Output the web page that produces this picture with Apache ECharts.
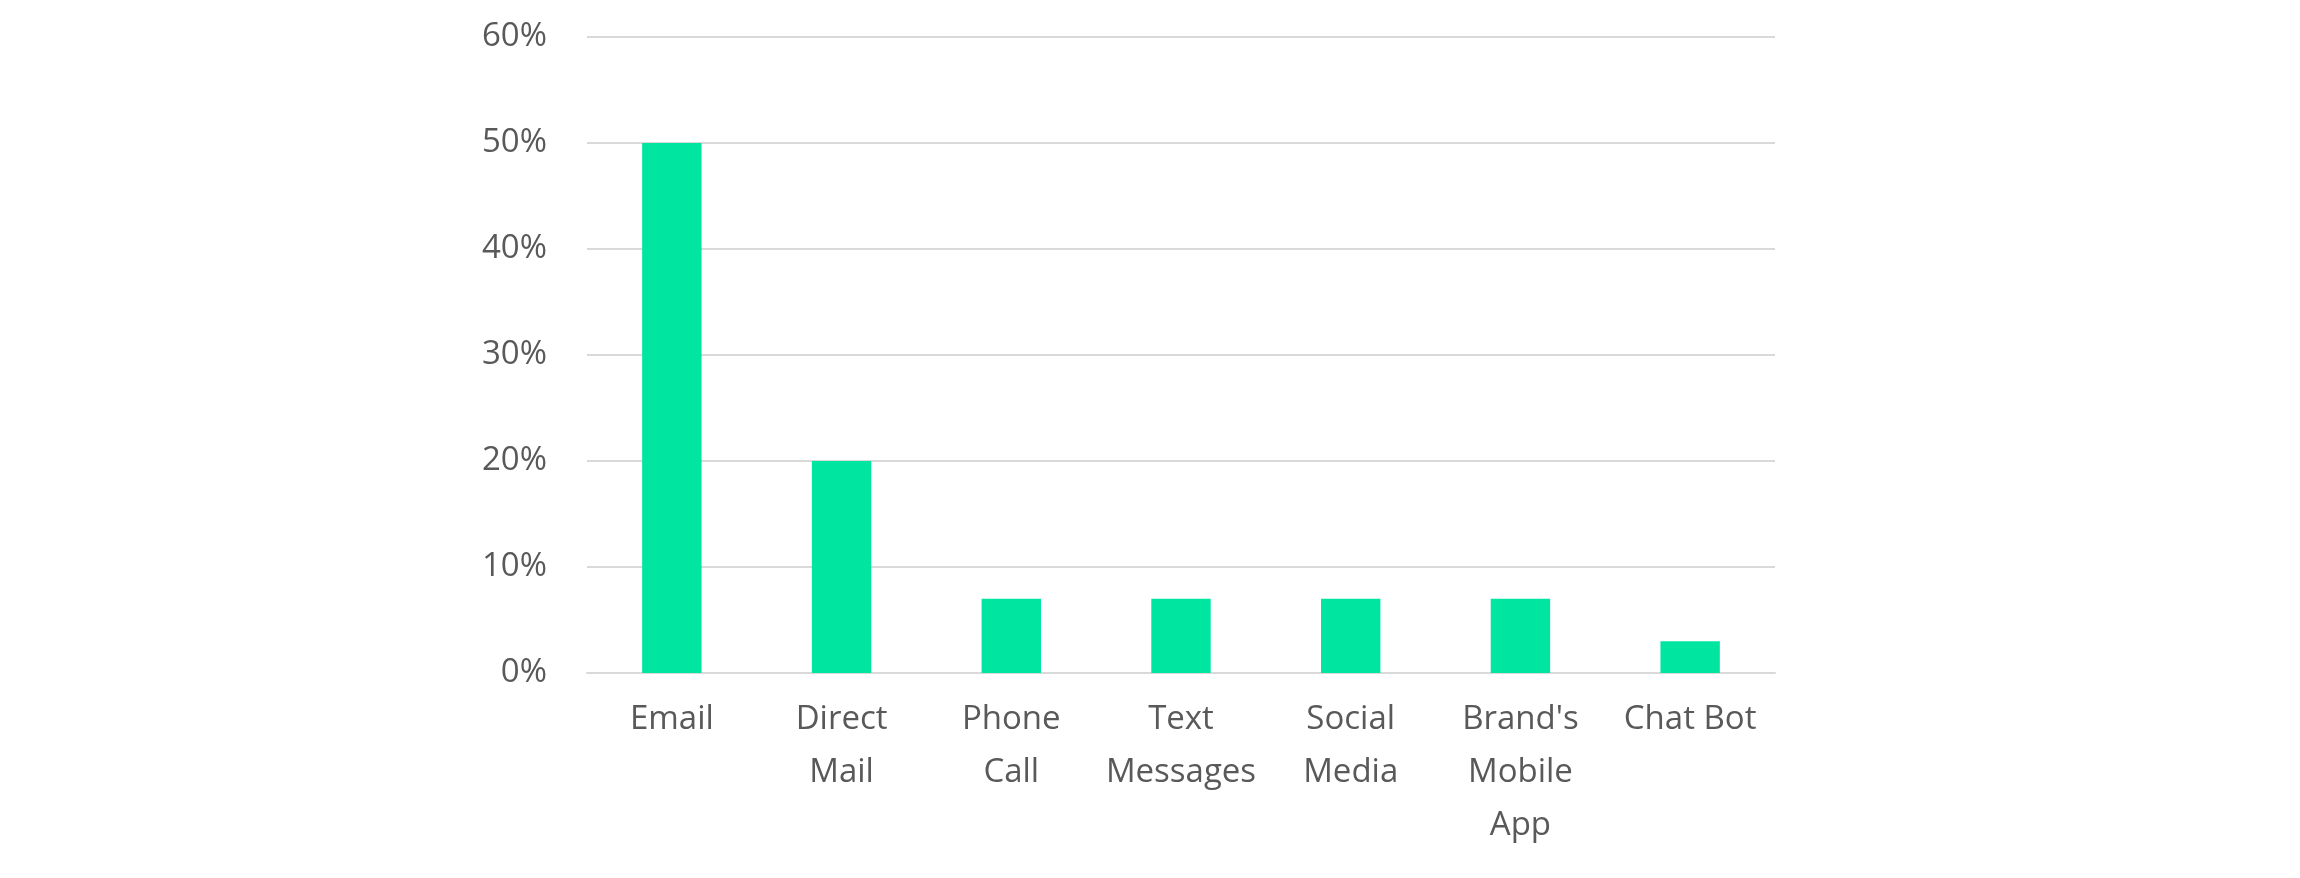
<!DOCTYPE html>
<html><head><meta charset="utf-8">
<script src="https://cdn.jsdelivr.net/npm/echarts@6/dist/echarts.min.js"></script>
<style>html,body{margin:0;padding:0;background:#fff}#c{width:2300px;height:878px}</style>
</head><body><div id="c"></div>
<script>
const categories = ["Email","Direct\nMail","Phone\nCall","Text\nMessages","Social\nMedia","Brand's\nMobile\nApp","Chat Bot"];
const values = [50,20,7,7,7,7,3];
const yTicks = [0,10,20,30,40,50,60];
const chart = echarts.init(document.getElementById('c'));
chart.setOption({
  animation:false,
  grid:{left:587,right:525,top:37,bottom:205,containLabel:false},
  xAxis:{type:'category',data:categories,
    axisLine:{lineStyle:{color:'#d9d9d9',width:2}},axisTick:{show:false},
    axisLabel:{color:'#595959',fontSize:33,fontFamily:'"Open Sans", sans-serif',lineHeight:53,margin:20,interval:0}},
  yAxis:{type:'value',min:yTicks[0],max:yTicks[yTicks.length-1],interval:10,
    axisLine:{show:false},axisTick:{show:false},
    splitLine:{lineStyle:{color:'#d9d9d9',width:2}},
    axisLabel:{color:'#595959',fontSize:33,fontFamily:'"Open Sans", sans-serif',margin:40,formatter:'{value}%'}},
  series:[{type:'bar',data:values,barWidth:'35%',itemStyle:{color:'#00E6A0'}}]
});
</script></body></html>
